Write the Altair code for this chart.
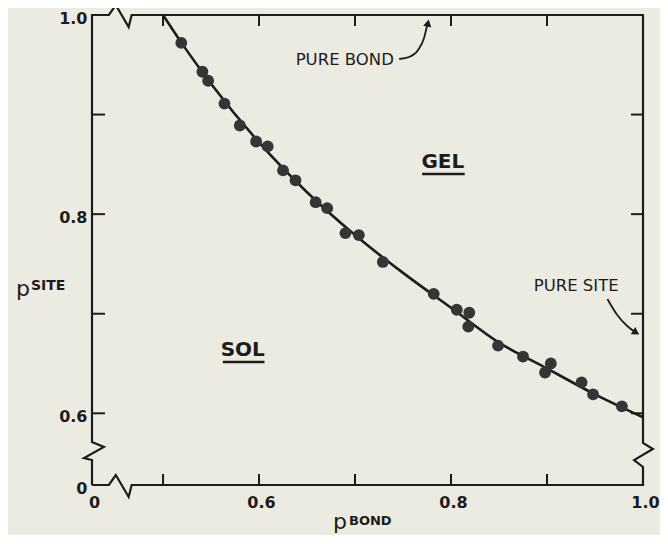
import altair as alt
import pandas as pd

# ---- data ----
pt_bond = [0.519, 0.541, 0.547, 0.564, 0.580, 0.597, 0.609, 0.625, 0.638, 0.659,
           0.671, 0.690, 0.704, 0.729, 0.782, 0.806, 0.819, 0.818, 0.849, 0.875,
           0.904, 0.898, 0.936, 0.948, 0.978]
pt_site = [0.972, 0.943, 0.934, 0.911, 0.889, 0.873, 0.868, 0.844, 0.834, 0.812,
           0.806, 0.781, 0.779, 0.752, 0.720, 0.704, 0.701, 0.687, 0.668, 0.657,
           0.650, 0.641, 0.631, 0.619, 0.607]

curve_bond = [0.500, 0.520, 0.550, 0.600, 0.650, 0.700, 0.750, 0.800, 0.850, 0.900, 0.950, 1.000]
curve_site = [1.000, 0.971, 0.931, 0.872, 0.822, 0.779, 0.741, 0.706, 0.671, 0.645, 0.619, 0.596]

# frame with axis-break zigzags
frame_x = [0.426, 0.426, 0.4177, 0.4384, 0.426, 0.426, 0.4436, 0.4508, 0.4642, 0.4673, 1.0,
           1.0, 1.0103, 0.9907, 1.0, 1.0, 0.4673, 0.4642, 0.4508, 0.4436, 0.426]
frame_y = [0.528, 0.5531, 0.5551, 0.5662, 0.5712, 1.0, 1.0, 1.010, 0.9879, 1.0, 1.0,
           0.5702, 0.5642, 0.5531, 0.5461, 0.528, 0.528, 0.516, 0.538, 0.528, 0.528]

x_ticks = [0.5, 0.6, 0.7, 0.8, 0.9]
y_ticks = [0.6, 0.7, 0.8, 0.9]
x_label_vals = [0.426, 0.6, 0.8, 1.0]
y_label_vals = [0.528, 0.6, 0.8, 1.0]

bond_arrow_x = [0.7460, 0.7564, 0.7657, 0.7719, 0.7750]
bond_arrow_y = [0.9558, 0.9578, 0.9648, 0.9769, 0.9889]
site_arrow_x = [0.9629, 0.9732, 0.9835, 0.9918]
site_arrow_y = [0.7148, 0.6987, 0.6877, 0.6816]

labels_text = ["PURE BOND", "PURE SITE"]
labels_x = [0.6893, 0.9304]
labels_y = [0.9548, 0.7278]

region_text = ["GEL", "SOL"]
region_x = [0.7915, 0.583]
region_y = [0.8523, 0.6636]
underline_x = [0.7699, 0.5623]
underline_x2 = [0.8143, 0.6057]
underline_y = [0.8403, 0.6515]

INK = "#1c1c1c"
W, H = 551, 470
FONT = "DejaVu Sans"

xs = alt.Scale(domain=[0.426, 1.0], nice=False, zero=False)
ys = alt.Scale(domain=[0.528, 1.0], nice=False, zero=False)

xaxis = alt.Axis(values=x_label_vals, title=None, ticks=False, domain=False, grid=False,
                 labelExpr="datum.value < 0.5 ? '0' : format(datum.value, '.1f')",
                 labelPadding=9, labelFont=FONT, labelFontSize=16, labelFontWeight="bold",
                 labelColor=INK, labelFlush=False, labelOverlap=False, labelOffset=2)
yaxis = alt.Axis(values=y_label_vals, title=None, ticks=False, domain=False, grid=False,
                 labelExpr="datum.value < 0.55 ? '0' : format(datum.value, '.1f')",
                 labelPadding=5, labelFont=FONT, labelFontSize=16, labelFontWeight="bold",
                 labelColor=INK, labelFlush=False, labelOverlap=False, labelOffset=3)

X = lambda f="x": alt.X(f"{f}:Q", scale=xs, axis=xaxis)
Y = lambda f="y": alt.Y(f"{f}:Q", scale=ys, axis=yaxis)

pts = pd.DataFrame({"x": pt_bond, "y": pt_site})
crv = pd.DataFrame({"x": curve_bond, "y": curve_site})
frm = pd.DataFrame({"x": frame_x, "y": frame_y, "i": list(range(len(frame_x)))})
xt = pd.DataFrame({"x": x_ticks})
yt = pd.DataFrame({"y": y_ticks})
ba = pd.DataFrame({"x": bond_arrow_x, "y": bond_arrow_y})
sa = pd.DataFrame({"x": site_arrow_x, "y": site_arrow_y})
lab = pd.DataFrame({"x": labels_x, "y": labels_y, "t": labels_text})
reg = pd.DataFrame({"x": region_x, "y": region_y, "t": region_text})
ul = pd.DataFrame({"x": underline_x, "x2": underline_x2, "y": underline_y})
one = pd.DataFrame({"a": [0]})

frame = alt.Chart(frm).mark_line(color=INK, strokeWidth=2.2, strokeJoin="miter").encode(
    x=X(), y=Y(), order="i:O")
curve = alt.Chart(crv).mark_line(color=INK, strokeWidth=2.6, interpolate="monotone").encode(
    x=X(), y=Y())
dots = alt.Chart(pts).mark_circle(size=140, color="#353535", opacity=1).encode(x=X(), y=Y())

tb = alt.Chart(xt).mark_rule(color=INK, strokeWidth=2).encode(x=X(), y=alt.value(H), y2=alt.value(H - 11))
tt = alt.Chart(xt).mark_rule(color=INK, strokeWidth=2).encode(x=X(), y=alt.value(0), y2=alt.value(11))
tl = alt.Chart(yt).mark_rule(color=INK, strokeWidth=2).encode(y=Y(), x=alt.value(0), x2=alt.value(13))
tr = alt.Chart(yt).mark_rule(color=INK, strokeWidth=2).encode(y=Y(), x=alt.value(W), x2=alt.value(W - 12))

barrow = alt.Chart(ba).mark_line(color=INK, strokeWidth=1.8, interpolate="monotone").encode(x=X(), y=Y())
sarrow = alt.Chart(sa).mark_line(color=INK, strokeWidth=1.8, interpolate="monotone").encode(x=X(), y=Y())
bhead = alt.Chart(pd.DataFrame({"x": [0.7760], "y": [0.9919]})).mark_point(
    shape="triangle-up", filled=True, size=70, angle=12, color=INK, opacity=1).encode(x=X(), y=Y())
shead = alt.Chart(pd.DataFrame({"x": [0.9928], "y": [0.6811]})).mark_point(
    shape="triangle-up", filled=True, size=70, angle=122, color=INK, opacity=1).encode(x=X(), y=Y())

ann = alt.Chart(lab).mark_text(font=FONT, fontSize=16.5, color=INK, align="center",
                               baseline="middle").encode(x=X(), y=Y(), text="t:N")
regions = alt.Chart(reg).mark_text(font=FONT, fontSize=20, fontWeight="bold", color=INK,
                                   align="center", baseline="middle").encode(x=X(), y=Y(), text="t:N")
unders = alt.Chart(ul).mark_rule(color=INK, strokeWidth=2.5).encode(
    x=X(), x2="x2:Q", y=Y())

p_site = alt.Chart(one).mark_text(text="p", font=FONT, fontSize=22, color=INK, align="center",
                                  baseline="alphabetic").encode(x=alt.value(-69), y=alt.value(281))
site_sup = alt.Chart(one).mark_text(text="SITE", font=FONT, fontSize=14, fontWeight="bold", color=INK,
                                    align="left", baseline="alphabetic").encode(x=alt.value(-61), y=alt.value(275))
p_bond = alt.Chart(one).mark_text(text="p", font=FONT, fontSize=22, color=INK, align="center",
                                  baseline="alphabetic").encode(x=alt.value(248), y=alt.value(H + 44))
bond_sup = alt.Chart(one).mark_text(text="BOND", font=FONT, fontSize=13, fontWeight="bold", color=INK,
                                    align="left", baseline="alphabetic").encode(x=alt.value(257), y=alt.value(H + 40))

chart = alt.layer(
    frame, tb, tt, tl, tr, curve, dots, barrow, sarrow, bhead, shead,
    ann, regions, unders, p_site, site_sup, p_bond, bond_sup
).properties(
    width=W, height=H,
    autosize=alt.AutoSizeParams(type="none"),
    padding={"left": 84, "top": 7, "right": 17, "bottom": 50},
    background="#ecebe2"
).configure_view(stroke=None)

chart.save("out.html", embed_options={"renderer": "svg", "actions": False})
